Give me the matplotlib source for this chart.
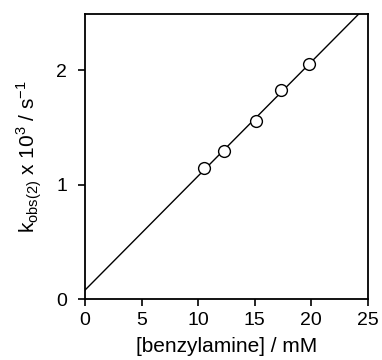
import numpy as np
import matplotlib
matplotlib.use('Agg')
import matplotlib.pyplot as plt

# benzylamine concentration (mM) and observed rate constant (x 10^3 s^-1)
conc = [10.5, 12.3, 15.1, 17.3, 19.8]
k_obs = [1.145, 1.29, 1.555, 1.83, 2.05]

x_ticks = [0, 5, 10, 15, 20, 25]
y_ticks = [0, 1, 2]

plt.rcParams['font.family'] = ['Liberation Sans', 'DejaVu Sans']

fig = plt.figure(figsize=(3.82, 3.6), dpi=100)
ax = fig.add_axes([0.2225, 0.169, 0.7405, 0.792])

# linear fit through the points
slope, intercept = np.polyfit(conc, k_obs, 1)
fit_x = np.array([0, 25])
ax.plot(fit_x, slope * fit_x + intercept, color='black', lw=1.0, zorder=2)
ax.plot(conc, k_obs, 'o', ms=8.5, mfc='white', mec='black', mew=1.0, zorder=3)

ax.set_xlim(0, 25)
ax.set_ylim(0, 2.49)
ax.set_xticks(x_ticks)
ax.set_yticks(y_ticks)
ax.tick_params(direction='out', length=5, width=1.2, labelsize=14)
ax.tick_params(axis='y', pad=8)
ax.tick_params(axis='x', pad=4)
for s in ax.spines.values():
    s.set_linewidth(1.3)

ax.set_xlabel('[benzylamine] / mM', fontsize=15, labelpad=6)
ax.set_ylabel(r'k$_{\mathregular{obs(2)}}$ x 10$^{\mathregular{3}}$ / s$^{\mathregular{-1}}$',
              fontsize=15, labelpad=9)

fig.savefig('out.png', dpi=100)
